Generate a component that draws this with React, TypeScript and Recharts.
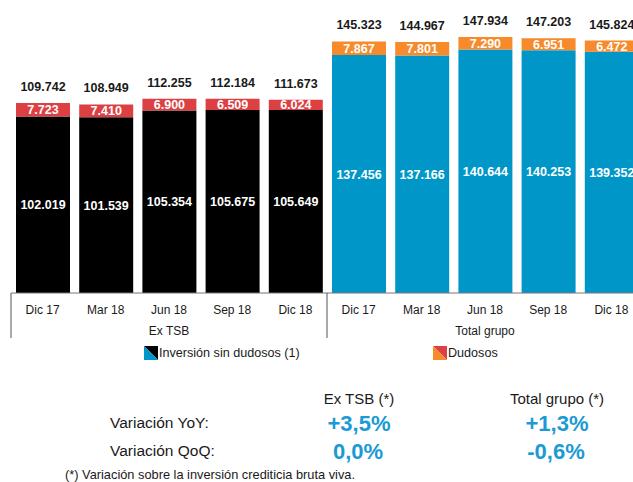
import React from "react"
import { BarChart, Bar, XAxis, YAxis, Legend, LabelList, Cell } from "recharts"

const categories = ["Dic 17", "Mar 18", "Jun 18", "Sep 18", "Dic 18", "Dic 17", "Mar 18", "Jun 18", "Sep 18", "Dic 18"]
const groupOf = [0, 0, 0, 0, 0, 1, 1, 1, 1, 1]
const groupLabels = ["Ex TSB", "Total grupo"]

const inversionSinDudosos = [102019, 101539, 105354, 105675, 105649, 137456, 137166, 140644, 140253, 139352]
const dudosos = [7723, 7410, 6900, 6509, 6024, 7867, 7801, 7290, 6951, 6472]
const totals = [109742, 108949, 112255, 112184, 111673, 145323, 144967, 147934, 147203, 145824]

const inversionColors = ["#000000", "#0097c8"]
const dudososColors = ["#dc4043", "#f78a2b"]

const tableColumns = ["Ex TSB (*)", "Total grupo (*)"]
const tableRows = ["Variación YoY:", "Variación QoQ:"]
const yoy = ["+3,5%", "+1,3%"]
const qoq = ["0,0%", "-0,6%"]

const data = categories.map((c, i) => ({
  key: `${groupLabels[groupOf[i]]} ${c}`,
  inversion: inversionSinDudosos[i],
  dudosos: dudosos[i],
  total: totals[i],
}))

const fmt = (n: number) => String(n).replace(/\B(?=(\d{3})+(?!\d))/g, ".")
const font = "'Liberation Sans', Arial, sans-serif"
const textColor = "#1a1a1a"
const pctBlue = "#1b9ad4"

function box(props: any) {
  const vb = props.viewBox && props.viewBox.width != null ? props.viewBox : props
  return { x: Number(vb.x), y: Number(vb.y), width: Number(vb.width), height: Number(vb.height) }
}

function InsideLabel(props: any) {
  const { x, y, width, height } = box(props)
  return (
    <text x={x + width / 2} y={y + height / 2} dy="0.36em" textAnchor="middle" fill="#fff" fontWeight="bold" fontSize={12.5}>
      {fmt(props.value)}
    </text>
  )
}

function TotalLabel(props: any) {
  const { x, y, width } = box(props)
  return (
    <text x={x + width / 2} y={y - 16.5} dy="0.36em" textAnchor="middle" fill={textColor} fontWeight="bold" fontSize={12.5}>
      {fmt(props.value)}
    </text>
  )
}

// category names on the first row, group name + separators below
function CategoryTick(props: any) {
  const { x, y, payload } = props
  const i = payload.index ?? props.index
  const half = payload.offset || 31.6
  const g = groupOf[i]
  const isStart = i === 0 || groupOf[i - 1] !== g
  const members = groupOf.filter((v) => v === g).length
  const first = groupOf.indexOf(g)
  const isMid = i === first + Math.floor(members / 2)
  return (
    <g>
      <text x={x} y={y + 16.5} dy="0.36em" textAnchor="middle" fontSize={12} fill={textColor}>
        {categories[i]}
      </text>
      {isStart && <line x1={x - half} x2={x - half} y1={y} y2={y + 45} stroke="#555" strokeWidth={1} />}
      {isMid && (
        <text x={x} y={y + 38} dy="0.36em" textAnchor="middle" fontSize={12} fill={textColor}>
          {groupLabels[g]}
        </text>
      )}
    </g>
  )
}

function Swatch({ a, b }: { a: string; b: string }) {
  return (
    <svg width={14} height={14} style={{ display: "block" }}>
      <polygon points="0,0 14,0 14,14" fill={a} />
      <polygon points="0,0 14,14 0,14" fill={b} />
    </svg>
  )
}

function LegendContent() {
  const items = [
    { label: "Inversión sin dudosos (1)", a: inversionColors[0], b: inversionColors[1], left: 144 },
    { label: "Dudosos", a: dudososColors[0], b: dudososColors[1], left: 433 },
  ]
  return (
    <div style={{ position: "relative", height: 16, fontFamily: font }}>
      {items.map((it) => (
        <div key={it.label} style={{ position: "absolute", left: it.left, top: 0, display: "flex", alignItems: "center", gap: 1 }}>
          <Swatch a={it.a} b={it.b} />
          <span style={{ fontSize: 12.6, color: textColor, lineHeight: "16px" }}>{it.label}</span>
        </div>
      ))}
    </div>
  )
}

function Cellt({ x, y, children, bold, size, color, align = "center", w = 140 }: any) {
  return (
    <div
      style={{
        position: "absolute",
        left: align === "center" ? x - w / 2 : x,
        top: y - 12,
        width: w,
        height: 24,
        lineHeight: "24px",
        textAlign: align,
        fontSize: size,
        fontWeight: bold ? "bold" : "normal",
        color,
        whiteSpace: "nowrap",
      }}
    >
      {children}
    </div>
  )
}

export default function App() {
  const colX = [359, 557]
  return (
    <div style={{ position: "fixed", left: 0, top: 0, width: 633, height: 482, overflow: "hidden", background: "#fff", fontFamily: font }}>
      <BarChart width={643} height={370} data={data} margin={{ top: 16, right: 0, left: 11, bottom: 0 }} barSize={54}>
        <XAxis
          dataKey="key"
          height={77}
          interval={0}
          tickLine={false}
          tickSize={0}
          tickMargin={0}
          axisLine={{ stroke: "#777" }}
          tick={<CategoryTick />}
        />
        <YAxis hide domain={[0, 160000]} />
        <Legend verticalAlign="middle" align="center" layout="horizontal" wrapperStyle={{ top: 345, left: 0, width: 633 }} content={<LegendContent />} />
        <Bar dataKey="inversion" stackId="a" isAnimationActive={false}>
          {data.map((_, i) => (
            <Cell key={i} fill={inversionColors[groupOf[i]]} />
          ))}
          <LabelList dataKey="inversion" content={<InsideLabel />} />
        </Bar>
        <Bar dataKey="dudosos" stackId="a" isAnimationActive={false}>
          {data.map((_, i) => (
            <Cell key={i} fill={dudososColors[groupOf[i]]} />
          ))}
          <LabelList dataKey="dudosos" content={<InsideLabel />} />
          <LabelList dataKey="total" content={<TotalLabel />} />
        </Bar>
      </BarChart>

      {tableColumns.map((c, i) => (
        <Cellt key={c} x={colX[i]} y={399} size={15} color={textColor}>
          {c}
        </Cellt>
      ))}
      {tableRows.map((r, j) => (
        <Cellt key={r} x={110} y={j === 0 ? 423 : 451} size={15.5} color={textColor} align="left">
          {r}
        </Cellt>
      ))}
      {yoy.map((v, i) => (
        <Cellt key={"y" + i} x={colX[i]} y={424} size={22} bold color={pctBlue}>
          {v}
        </Cellt>
      ))}
      {qoq.map((v, i) => (
        <Cellt key={"q" + i} x={colX[i] - 1} y={452} size={22} bold color={pctBlue}>
          {v}
        </Cellt>
      ))}
      <Cellt x={65} y={475} size={12.8} color={textColor} align="left" w={400}>
        (*) Variación sobre la inversión crediticia bruta viva.
      </Cellt>
    </div>
  )
}
